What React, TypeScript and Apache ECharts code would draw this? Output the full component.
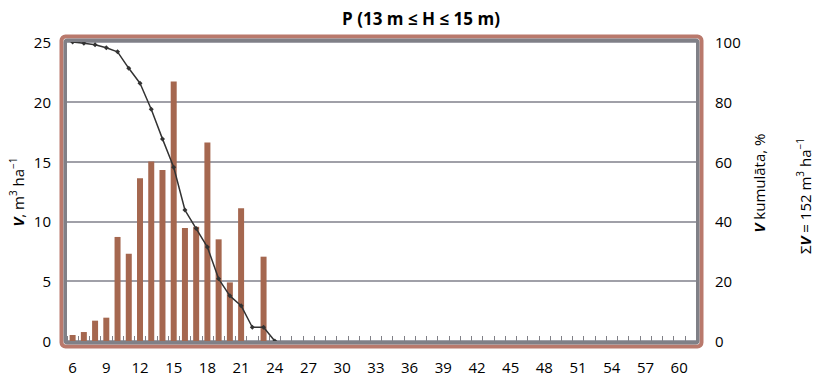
import React, { useEffect, useRef } from "react";
import * as echarts from "echarts";

// Diameter classes, cm (6 … 61)
const diameterClasses: string[] = [
  "6", "7", "8", "9", "10", "11", "12", "13", "14", "15", "16", "17", "18", "19",
  "20", "21", "22", "23", "24", "25", "26", "27", "28", "29", "30", "31", "32", "33",
  "34", "35", "36", "37", "38", "39", "40", "41", "42", "43", "44", "45", "46", "47",
  "48", "49", "50", "51", "52", "53", "54", "55", "56", "57", "58", "59", "60", "61",
];

// Stand volume per diameter class, m³ ha⁻¹ (classes 6 … 23)
const volumePerClass: number[] = [
  0.5, 0.75, 1.7, 1.95, 8.7, 7.3, 13.6, 15.0, 14.3, 21.7, 9.45, 9.55, 16.6, 8.5, 4.9, 11.1, 0, 7.05,
];

// Cumulative volume share from each class upward, % (classes 6 … 24)
const cumulativeShare: number[] = [
  100, 99.6, 99.1, 98.1, 96.7, 91.2, 86.2, 77.5, 67.6, 58.1, 43.8, 37.6, 31.4, 20.8, 15.1, 11.8, 4.6, 4.6, 0,
];

const leftTicks = { min: 0, max: 25, interval: 5 };
const rightTicks = { min: 0, max: 100, interval: 20 };
const totalVolume = "152";

const W = 817;
const H = 377;
const PLOT = { left: 67, top: 42, right: 696, bottom: 341 };
const FONT = "'Open Sans', 'Noto Sans', sans-serif";
const BAR = "#a5674f";
const FRAME_GREY = "#808087";
const FRAME_RED = "#b9796c";

const richLabel = {
  b: { fontWeight: "bold" as const, fontStyle: "italic" as const, fontSize: 15, lineHeight: 20, fontFamily: FONT, fill: "#000" },
  n: { fontSize: 15, lineHeight: 20, fontFamily: FONT, fill: "#000" },
  s: { fontSize: 10, lineHeight: 12, verticalAlign: "top" as const, fontFamily: FONT, fill: "#000" },
};

export default function App() {
  const ref = useRef<HTMLDivElement>(null);

  useEffect(() => {
    document.body.style.margin = "0";
    if (!ref.current) return;
    const chart = echarts.init(ref.current, undefined, { renderer: "svg" });

    const barData = diameterClasses.map((_, i) => (i < volumePerClass.length ? volumePerClass[i] : null));
    const lineData = diameterClasses.map((_, i) => (i < cumulativeShare.length ? cumulativeShare[i] : null));

    const pw = PLOT.right - PLOT.left;
    const ph = PLOT.bottom - PLOT.top;

    chart.setOption({
      animation: false,
      backgroundColor: "#fff",
      grid: {
        left: PLOT.left,
        top: PLOT.top,
        right: W - PLOT.right,
        bottom: H - PLOT.bottom,
        containLabel: false,
      },
      xAxis: {
        type: "category",
        data: diameterClasses,
        boundaryGap: true,
        axisLine: { show: false },
        axisTick: { show: true, inside: true, length: 5, interval: 0, lineStyle: { color: FRAME_GREY, width: 1 } },
        axisLabel: { interval: 2, margin: 18, fontSize: 15, fontFamily: FONT, color: "#000" },
        splitLine: { show: false },
      },
      yAxis: [
        {
          type: "value",
          ...leftTicks,
          axisLine: { show: false },
          axisTick: { show: false },
          axisLabel: { margin: 16, fontSize: 15, fontFamily: FONT, color: "#000" },
          splitLine: { show: true, lineStyle: { color: "#a0a0a8", width: 2 } },
        },
        {
          type: "value",
          ...rightTicks,
          position: "right",
          axisLine: { show: false },
          axisTick: { show: false },
          axisLabel: { margin: 19, fontSize: 15, fontFamily: FONT, color: "#000" },
          splitLine: { show: false },
        },
      ],
      series: [
        {
          type: "bar",
          yAxisIndex: 0,
          data: barData,
          barWidth: 6,
          itemStyle: { color: BAR },
          z: 2,
        },
        {
          type: "line",
          yAxisIndex: 1,
          data: lineData,
          connectNulls: false,
          symbol: "diamond",
          symbolSize: 5,
          lineStyle: { color: "#333", width: 1.5 },
          itemStyle: { color: "#333" },
          z: 3,
        },
      ],
      graphic: [
        {
          type: "rect",
          silent: true,
          z: 10,
          shape: { x: PLOT.left - 5.5, y: PLOT.top - 5.5, width: pw + 11, height: ph + 11, r: 4 },
          style: { fill: "none", stroke: FRAME_RED, lineWidth: 4 },
        },
        {
          type: "rect",
          silent: true,
          z: 11,
          shape: { x: PLOT.left - 1.75, y: PLOT.top - 1.75, width: pw + 3.5, height: ph + 3.5, r: 2 },
          style: { fill: "none", stroke: FRAME_GREY, lineWidth: 3.5 },
        },
        {
          type: "text",
          x: 421,
          y: 18,
          style: {
            text: "P (13 m ≤ H ≤ 15 m)",
            fontFamily: FONT,
            fontSize: 17,
            fontWeight: "bold",
            fill: "#000",
            align: "center",
            verticalAlign: "middle",
          },
        },
        {
          type: "text",
          x: 18,
          y: 192,
          rotation: Math.PI / 2,
          style: {
            text: "{b|V}{n|, m}{s|3}{n| ha}{s|−1}",
            rich: richLabel,
            align: "center",
            verticalAlign: "middle",
          },
        },
        {
          type: "text",
          x: 759,
          y: 183,
          rotation: Math.PI / 2,
          style: {
            text: "{b|V}{n| kumulāta, %}",
            rich: richLabel,
            align: "center",
            verticalAlign: "middle",
          },
        },
        {
          type: "text",
          x: 805,
          y: 196,
          rotation: Math.PI / 2,
          style: {
            text: `{n|Σ}{b|V}{n| = ${totalVolume} m}{s|3}{n| ha}{s|−1}`,
            rich: richLabel,
            align: "center",
            verticalAlign: "middle",
          },
        },
      ],
    });

    return () => chart.dispose();
  }, []);

  return <div ref={ref} style={{ width: W, height: H }} />;
}
